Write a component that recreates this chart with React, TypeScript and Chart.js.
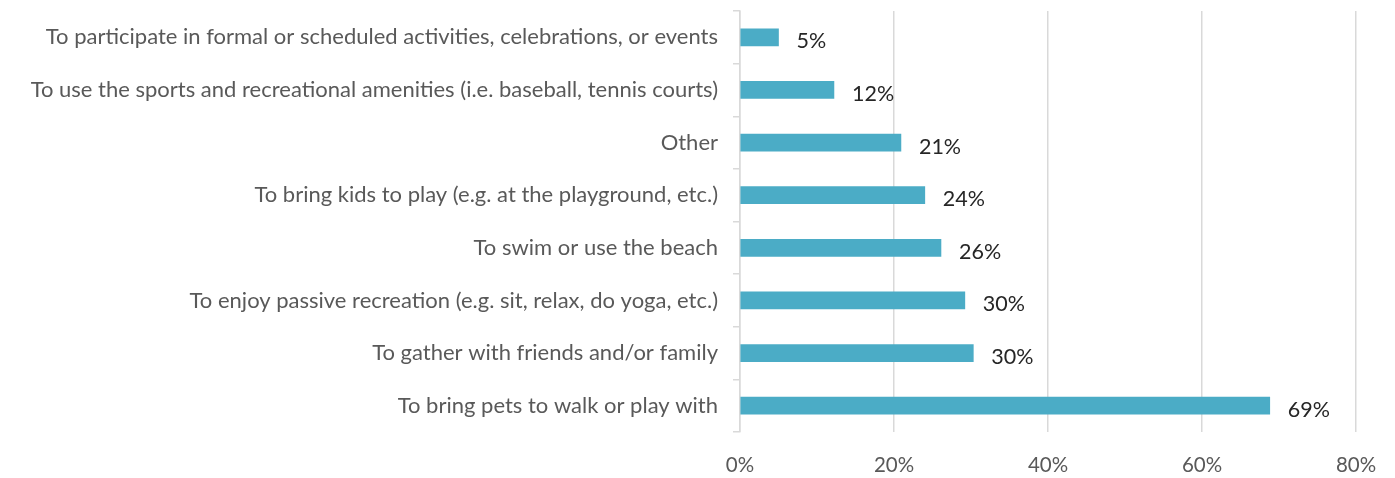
import React, { useEffect, useRef } from "react";
import { Chart, registerables } from "chart.js";

Chart.register(...registerables);

const categories = [
  "To participate in formal or scheduled activities, celebrations, or events",
  "To use the sports and recreational amenities (i.e. baseball, tennis courts)",
  "Other",
  "To bring kids to play (e.g. at the playground, etc.)",
  "To swim or use the beach",
  "To enjoy passive recreation (e.g. sit, relax, do yoga, etc.)",
  "To gather with friends and/or family",
  "To bring pets to walk or play with",
];

const values = [5, 12.2, 20.9, 24, 26.1, 29.2, 30.3, 68.8];
const valueLabels = ["5%", "12%", "21%", "24%", "26%", "30%", "30%", "69%"];

const xMin = 0;
const xMax = 80;
const xStep = 20;

const FONT = "Lato, 'Open Sans', sans-serif";
const BAR_COLOR = "#4BACC6";
const GRID_COLOR = "#d9d9d9";
const TEXT_GRAY = "#595959";

const dataLabelPlugin = {
  id: "dataLabels",
  afterDatasetsDraw(chart: any) {
    const ctx = chart.ctx;
    const meta = chart.getDatasetMeta(0);
    ctx.save();
    ctx.font = `21.5px ${FONT}`;
    ctx.fillStyle = "#262626";
    ctx.textAlign = "left";
    ctx.textBaseline = "middle";
    meta.data.forEach((bar: any, i: number) => {
      ctx.fillText(valueLabels[i], bar.x + 18, bar.y + 4);
    });
    ctx.restore();
  },
};

export default function App() {
  const ref = useRef<HTMLCanvasElement | null>(null);

  useEffect(() => {
    if (!ref.current) return;
    const chart = new Chart(ref.current, {
      type: "bar",
      data: {
        labels: categories,
        datasets: [
          {
            data: values,
            backgroundColor: BAR_COLOR,
            borderWidth: 0,
            barThickness: 17,
          },
        ],
      },
      plugins: [dataLabelPlugin],
      options: {
        indexAxis: "y",
        responsive: false,
        animation: false,
        layout: { padding: { top: 11, right: 39, left: 0, bottom: 0 } },
        plugins: {
          legend: { display: false },
          tooltip: { enabled: false },
        },
        scales: {
          x: {
            min: xMin,
            max: xMax,
            ticks: {
              stepSize: xStep,
              callback: (v: any) => v + "%",
              font: { family: FONT, size: 20.5 },
              color: TEXT_GRAY,
              padding: 21,
            },
            grid: { color: GRID_COLOR, drawTicks: false, lineWidth: 1.5 },
            border: { display: false },
            afterFit: (s: any) => {
              s.height = 46;
              s.paddingLeft = 0;
              s.paddingRight = 0;
            },
          },
          y: {
            ticks: {
              font: { family: FONT, size: 22 },
              color: TEXT_GRAY,
              padding: 15,
              autoSkip: false,
            },
            grid: {
              drawOnChartArea: false,
              tickLength: 7,
              color: GRID_COLOR,
              offset: true,
              lineWidth: 1.5,
            },
            border: { color: GRID_COLOR, width: 1.5 },
            afterFit: (s: any) => {
              s.width = 740;
              s.paddingTop = 0;
              s.paddingBottom = 0;
            },
          },
        },
      },
    });
    return () => chart.destroy();
  }, []);

  return (
    <div style={{ position: "absolute", left: 0, top: 0, width: 1395, height: 478, background: "#fff" }}>
      <canvas ref={ref} width={1395} height={478} />
    </div>
  );
}
